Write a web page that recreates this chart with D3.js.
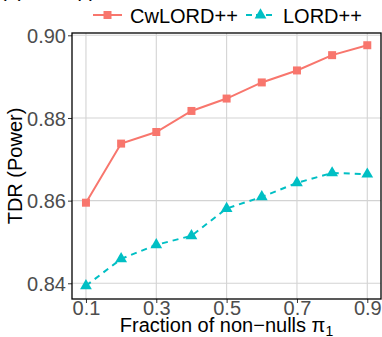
<!DOCTYPE html>
<html>
<head>
<meta charset="utf-8">
<script src="https://cdn.jsdelivr.net/npm/d3@7"></script>
<style>
  body { margin: 0; background: #fff; }
  text { font-family: "Liberation Sans", Arial, sans-serif; }
</style>
</head>
<body>
<svg id="chart" width="382" height="337"></svg>
<script>
// data
const pi1 = [0.1, 0.2, 0.3, 0.4, 0.5, 0.6, 0.7, 0.8, 0.9];
const cwlord = [0.8595, 0.8738, 0.8766, 0.8817, 0.8847, 0.8886, 0.8915, 0.8952, 0.8976];
const lord = [0.8394, 0.8459, 0.8493, 0.8515, 0.8581, 0.8609, 0.8643, 0.8667, 0.8664];
const xTicks = [0.1, 0.3, 0.5, 0.7, 0.9];
const yTicks = [0.84, 0.86, 0.88, 0.90];
const seriesNames = ["CwLORD++", "LORD++"];
const colors = ["#F8766D", "#00BFC4"];

const margin = {top: 33, right: 1, bottom: 38, left: 72};
const width = 382, height = 337;
const plotW = width - margin.left - margin.right;
const plotH = height - margin.top - margin.bottom;

const svg = d3.select("#chart");

const x = d3.scaleLinear().domain([0.0603, 0.939]).range([0, plotW]);
const y = d3.scaleLinear().domain([0.8362, 0.90056]).range([plotH, 0]);

// clipped subtitle fragment at the very top
svg.append("text")
    .attr("x", 0).attr("y", -3)
    .attr("font-size", 20).attr("fill", "#000")
    .text("(b) α, π, ρ)");

const g = svg.append("g").attr("transform", `translate(${margin.left},${margin.top})`);

// grid
g.selectAll(".gx").data(xTicks).join("line")
    .attr("x1", d => x(d)).attr("x2", d => x(d))
    .attr("y1", 0).attr("y2", plotH)
    .attr("stroke", "#d3d3d3").attr("stroke-width", 1.1);
g.selectAll(".gy").data(yTicks).join("line")
    .attr("x1", 0).attr("x2", plotW)
    .attr("y1", d => y(d)).attr("y2", d => y(d))
    .attr("stroke", "#d3d3d3").attr("stroke-width", 1.1);

// axes
const xAxis = g.append("g").attr("transform", `translate(0,${plotH})`)
    .call(d3.axisBottom(x).tickValues(xTicks).tickFormat(d3.format(".1f")).tickSize(4).tickPadding(1));
const yAxis = g.append("g")
    .call(d3.axisLeft(y).tickValues(yTicks).tickFormat(d3.format(".2f")).tickSize(4).tickPadding(2));
[xAxis, yAxis].forEach(a => {
    a.select(".domain").remove();
    a.selectAll("line").attr("stroke", "#333");
    a.selectAll("text").attr("fill", "#4d4d4d").attr("font-size", 20)
        .attr("font-family", "Liberation Sans, Arial, sans-serif");
});
xAxis.selectAll("text").attr("dy", "0.55em");
yAxis.selectAll("text").attr("dy", "0.36em");

// lines
const series = [cwlord, lord];
const line = d3.line().x((d, i) => x(pi1[i])).y(d => y(d));
series.forEach((s, k) => {
    g.append("path").datum(s)
        .attr("fill", "none")
        .attr("stroke", colors[k])
        .attr("stroke-width", 2)
        .attr("stroke-dasharray", k === 1 ? "6,5" : null)
        .attr("d", line);
});

const sqSym = d3.symbol().type(d3.symbolSquare).size(64);
const triSym = d3.symbol().type(d3.symbolTriangle).size(60);

g.selectAll(".sq").data(cwlord).join("path")
    .attr("d", sqSym)
    .attr("transform", (d, i) => `translate(${x(pi1[i])},${y(d)})`)
    .attr("fill", colors[0]);
g.selectAll(".tri").data(lord).join("path")
    .attr("d", triSym)
    .attr("transform", (d, i) => `translate(${x(pi1[i])},${y(d)})`)
    .attr("fill", colors[1]);

// panel border
g.append("rect").attr("width", plotW).attr("height", plotH)
    .attr("fill", "none").attr("stroke", "#000").attr("stroke-width", 1.3);

// axis titles
svg.append("text")
    .attr("x", margin.left + plotW / 2).attr("y", 332)
    .attr("text-anchor", "middle").attr("font-size", 20)
    .html('Fraction of non\u2212nulls π<tspan font-size="14" dy="4">1</tspan>');
svg.append("text")
    .attr("transform", `translate(22,${margin.top + plotH / 2}) rotate(-90)`)
    .attr("text-anchor", "middle").attr("font-size", 20)
    .text("TDR (Power)");

// legend
const legend = [
    {name: seriesNames[0], color: colors[0], x0: 93, sym: sqSym, dash: null, tx: 130},
    {name: seriesNames[1], color: colors[1], x0: 246, sym: triSym, dash: "6,4", tx: 283}
];
legend.forEach(l => {
    svg.append("line").attr("x1", l.x0).attr("x2", l.x0 + 29)
        .attr("y1", 15).attr("y2", 15)
        .attr("stroke", l.color).attr("stroke-width", 2)
        .attr("stroke-dasharray", l.dash);
    svg.append("path").attr("d", l.sym)
        .attr("transform", `translate(${l.x0 + 14.5},15)`)
        .attr("fill", l.color);
    svg.append("text").attr("x", l.tx).attr("y", 22.5)
        .attr("font-size", 20).attr("fill", "#000").text(l.name);
});
</script>
</body>
</html>
